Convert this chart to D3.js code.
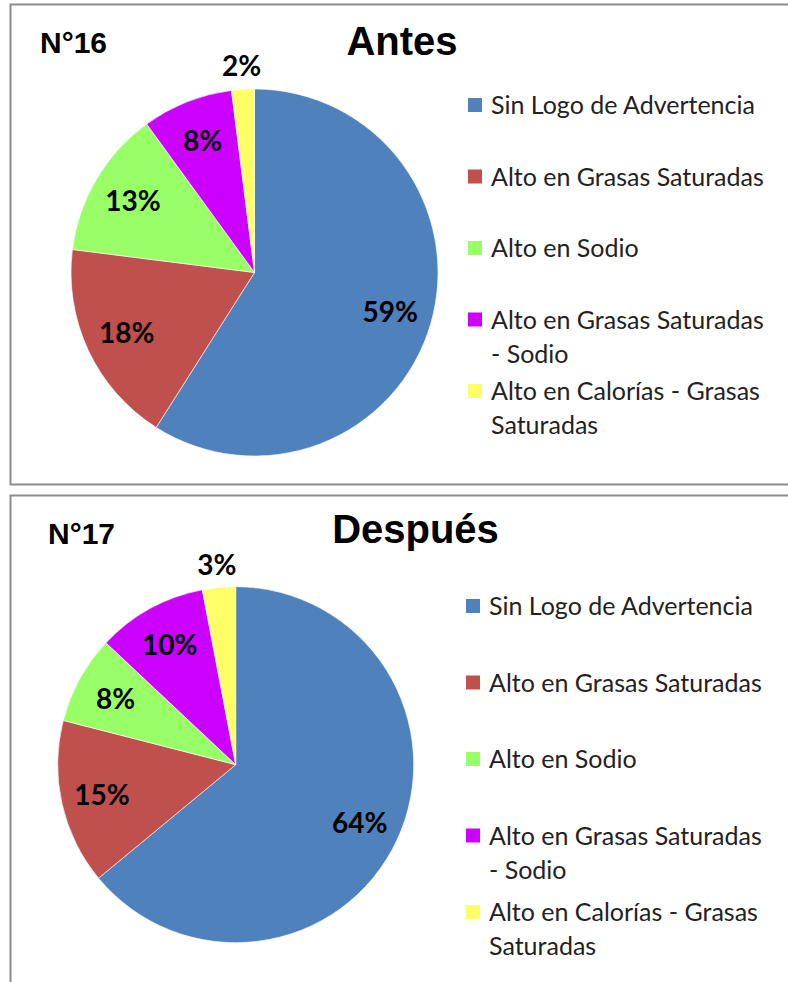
<!DOCTYPE html>
<html>
<head>
<meta charset="utf-8">
<script src="https://cdn.jsdelivr.net/npm/d3@7"></script>
<style>
  body { margin: 0; background: #fff; }
  svg { display: block; }
</style>
</head>
<body>
<div id="chart"></div>
<script>
// data
var categories = [
  "Sin Logo de Advertencia",
  "Alto en Grasas Saturadas",
  "Alto en Sodio",
  "Alto en Grasas Saturadas - Sodio",
  "Alto en Calorías - Grasas Saturadas"
];
var valuesAntes = [59, 18, 13, 8, 2];
var valuesDespues = [64, 15, 8, 10, 3];
var chartTitles = ["Antes", "Después"];
var chartNumbers = ["N°16", "N°17"];
var sliceColors = ["#4F81BD", "#C0504D", "#99FF66", "#CC00FF", "#FFFF66"];

var width = 788, height = 982;

var svg = d3.select("#chart").append("svg")
  .attr("width", width).attr("height", height);

var color = d3.scaleOrdinal().domain(categories).range(sliceColors);

// layout of the two panels
var panels = [
  { values: valuesAntes, title: chartTitles[0], num: chartNumbers[0],
    box: [10.5, 4.5, 800, 480],
    cx: 254.5, cy: 272.5, r: 183.5,
    titleX: 402, titleY: 55, numX: 40, numY: 53,
    legX: 468, legTop: 105, legStep: 71.5 },
  { values: valuesDespues, title: chartTitles[1], num: chartNumbers[1],
    box: [10.5, 495.5, 800, 500],
    cx: 235.7, cy: 764.7, r: 178,
    titleX: 415.5, titleY: 543, numX: 48, numY: 544,
    legX: 466, legTop: 606, legStep: 76.5 }
];

panels.forEach(function(p) { drawPanel(p); });

function drawPanel(p) {
  var g = svg.append("g");

  g.append("rect")
    .attr("x", p.box[0]).attr("y", p.box[1])
    .attr("width", p.box[2]).attr("height", p.box[3])
    .attr("fill", "#fff")
    .attr("stroke", "#8c8c8c")
    .attr("stroke-width", 2);

  g.append("text")
    .attr("x", p.numX).attr("y", p.numY)
    .attr("font-family", "Liberation Sans, Arial, sans-serif")
    .attr("font-weight", "bold")
    .attr("font-size", "30px")
    .text(p.num);

  g.append("text")
    .attr("x", p.titleX).attr("y", p.titleY)
    .attr("text-anchor", "middle")
    .attr("font-family", "Liberation Sans, Arial, sans-serif")
    .attr("font-weight", "bold")
    .attr("font-size", "40px")
    .text(p.title);

  var data = categories.map(function(c, i) { return { name: c, value: p.values[i] }; });
  var pie = d3.pie().sort(null).value(function(d) { return d.value; });
  var arcs = pie(data);
  var arc = d3.arc().innerRadius(0).outerRadius(p.r);
  var labelIn = d3.arc().innerRadius(p.r * 0.77).outerRadius(p.r * 0.77);
  var labelOut = d3.arc().innerRadius(p.r * 1.13).outerRadius(p.r * 1.13);

  var pg = g.append("g").attr("transform", "translate(" + p.cx + "," + p.cy + ")");

  pg.selectAll("path").data(arcs).enter().append("path")
    .attr("d", arc)
    .attr("fill", function(d) { return color(d.data.name); })
    .attr("stroke", "#fff")
    .attr("stroke-width", 0.6);

  pg.selectAll("text").data(arcs).enter().append("text")
    .attr("transform", function(d) {
      var c = d.data.value < 5 ? labelOut.centroid(d) : labelIn.centroid(d);
      return "translate(" + c[0] + "," + c[1] + ")";
    })
    .attr("text-anchor", "middle")
    .attr("dy", "0.36em")
    .attr("font-family", "Lato, sans-serif")
    .attr("font-weight", "bold")
    .attr("font-size", "28px")
    .attr("fill", "#000")
    .text(function(d) { return d.data.value + "%"; });

  // legend
  var y = d3.scalePoint().domain(categories)
    .range([p.legTop, p.legTop + p.legStep * (categories.length - 1)]);
  var maxW = 282;

  categories.forEach(function(c) {
    var yy = y(c);
    g.append("rect")
      .attr("x", p.legX).attr("y", yy - 7)
      .attr("width", 14).attr("height", 14)
      .attr("fill", color(c));

    var t = g.append("text")
      .attr("x", p.legX + 23).attr("y", yy)
      .attr("dy", "0.36em")
      .attr("font-family", "Lato, sans-serif")
      .attr("font-size", "25px")
      .attr("fill", "#222");

    // wrap words that do not fit
    var words = c.split(" "), line = [];
    var tspan = t.append("tspan").attr("x", p.legX + 23);
    words.forEach(function(w) {
      line.push(w);
      tspan.text(line.join(" "));
      if (tspan.node().getComputedTextLength() > maxW && line.length > 1) {
        line.pop();
        tspan.text(line.join(" "));
        line = [w];
        tspan = t.append("tspan").attr("x", p.legX + 23).attr("dy", "34px").text(w);
      }
    });
  });
}
</script>
</body>
</html>
